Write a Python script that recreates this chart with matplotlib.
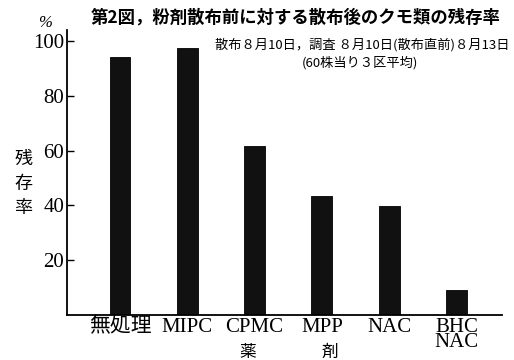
import numpy as np
import matplotlib.pyplot as plt

# data
categories = ["無処理", "MIPC", "CPMC", "MPP", "NAC", "BHC\nNAC"]
survival = [94, 97.5, 61.5, 43.3, 39.6, 9.1]
yticks = [20, 40, 60, 80, 100]

jp = ["Noto Sans CJK JP", "DejaVu Sans"]
serif = ["Liberation Serif", "Noto Sans CJK JP"]

fig = plt.figure(figsize=(5.14, 3.6), dpi=100)
ax = fig.add_axes([0.130, 0.125, 0.847, 0.792])

x = np.arange(len(categories))
ax.bar(x, survival, width=0.31, color="#111111", edgecolor="#000000", linewidth=0.6)

ax.set_xlim(-0.79, 5.68)
ax.set_ylim(0, 104)
ax.set_yticks(yticks)
ax.set_yticklabels([str(v) for v in yticks], family=serif, fontsize=15)
ax.set_xticks(x)
ax.set_xticklabels(categories, family=serif, fontsize=15, linespacing=0.75)
ax.tick_params(axis="x", length=0, pad=2)
ax.tick_params(axis="y", direction="in", length=5, width=1, pad=2)

for s in ["top", "right"]:
    ax.spines[s].set_visible(False)
ax.spines["left"].set_linewidth(1.3)
ax.spines["bottom"].set_linewidth(1.3)

# y label, stacked vertically
fig.text(0.045, 0.49, "残\n存\n率", family=jp, fontsize=13, ha="center", va="center",
         linespacing=1.45)
fig.text(0.088, 0.915, "%", family=serif, fontsize=12, ha="center", va="bottom", style="italic")

# x label split in two characters
fig.text(0.482, 0.02, "薬", family=jp, fontsize=12, ha="center", va="center")
fig.text(0.642, 0.02, "剤", family=jp, fontsize=12, ha="center", va="center")

fig.text(0.575, 0.95, "第2図，粉剤散布前に対する散布後のクモ類の残存率", family=jp,
         fontsize=12.5, fontweight="bold", ha="center", va="center")
fig.text(0.992, 0.875, "散布８月10日，調査 ８月10日(散布直前)８月13日", family=jp,
         fontsize=9.5, ha="right", va="center")
fig.text(0.70, 0.825, "(60株当り３区平均)", family=jp, fontsize=9.5, ha="center", va="center")

fig.savefig("out.png", dpi=100)
